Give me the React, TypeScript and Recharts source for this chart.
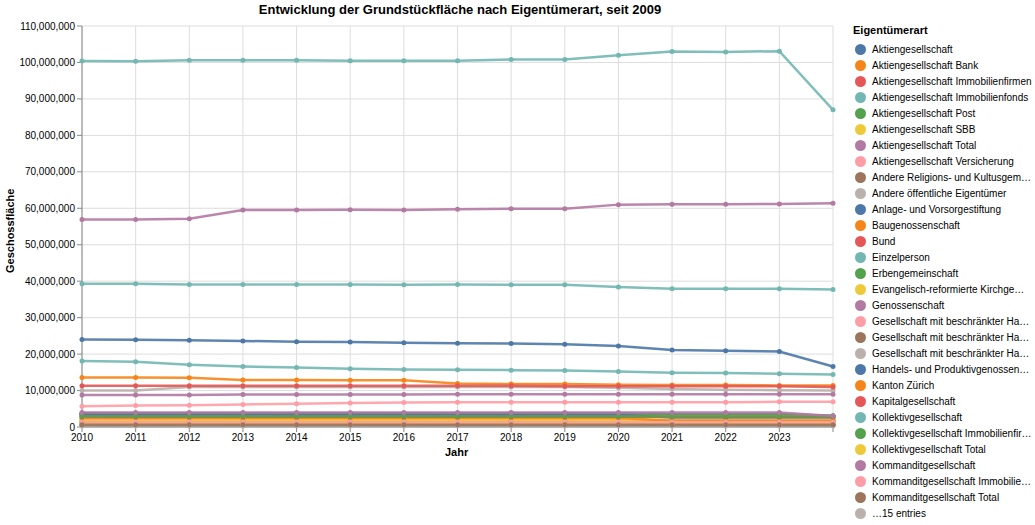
import { LineChart, Line, XAxis, YAxis, CartesianGrid } from 'recharts';

const years = [2010, 2011, 2012, 2013, 2014, 2015, 2016, 2017, 2018, 2019, 2020, 2021, 2022, 2023, 2024];
const xTicks = years;
const yTicks = [0, 10e6, 20e6, 30e6, 40e6, 50e6, 60e6, 70e6, 80e6, 90e6, 100e6, 110e6];
const palette = ['#4c78a8', '#f58518', '#e45756', '#72b7b2', '#54a24b', '#eeca3b', '#b279a2', '#ff9da6', '#9d755d', '#bab0ac'];

const names = [
  'Aktiengesellschaft', 'Aktiengesellschaft Bank', 'Aktiengesellschaft Immobilienfirmen', 'Aktiengesellschaft Immobilienfonds',
  'Aktiengesellschaft Post', 'Aktiengesellschaft SBB', 'Aktiengesellschaft Total', 'Aktiengesellschaft Versicherung',
  'Andere Religions- und Kultusgem…', 'Andere öffentliche Eigentümer', 'Anlage- und Vorsorgestiftung', 'Baugenossenschaft',
  'Bund', 'Einzelperson', 'Erbengemeinschaft', 'Evangelisch-reformierte Kirchge…', 'Genossenschaft',
  'Gesellschaft mit beschränkter Ha…', 'Gesellschaft mit beschränkter Ha…', 'Gesellschaft mit beschränkter Ha…',
  'Handels- und Produktivgenossen…', 'Kanton Zürich', 'Kapitalgesellschaft', 'Kollektivgesellschaft',
  'Kollektivgesellschaft Immobilienfir…', 'Kollektivgesellschaft Total', 'Kommanditgesellschaft',
  'Kommanditgesellschaft Immobilie…', 'Kommanditgesellschaft Total', '…15 entries',
];

// values in millions per series index (2010..2024)
const values: number[][] = [
  [24.0, 23.9, 23.8, 23.6, 23.4, 23.3, 23.1, 23.0, 22.9, 22.7, 22.2, 21.1, 20.9, 20.7, 16.6],
  [1.2, 1.2, 1.2, 1.2, 1.2, 1.2, 1.2, 1.2, 1.2, 1.2, 1.2, 0.6, 0.6, 0.6, 0.6],
  [3.6, 3.6, 3.6, 1.8, 1.8, 1.8, 1.8, 1.8, 1.8, 1.8, 1.8, 1.8, 1.8, 1.8, 1.8],
  [18.1, 17.9, 17.1, 16.6, 16.3, 16.0, 15.8, 15.7, 15.6, 15.5, 15.2, 14.9, 14.8, 14.6, 14.4],
  [1.5, 1.5, 1.5, 1.5, 1.5, 1.5, 1.5, 1.5, 1.5, 1.5, 1.5, 1.5, 1.5, 1.5, 1.5],
  [2.0, 2.0, 2.0, 2.0, 2.0, 2.0, 2.0, 2.0, 2.0, 2.0, 2.0, 2.0, 2.0, 2.0, 2.0],
  [56.9, 56.9, 57.1, 59.5, 59.5, 59.6, 59.5, 59.7, 59.9, 59.9, 61.0, 61.1, 61.1, 61.2, 61.4],
  [5.7, 5.9, 6.0, 6.2, 6.4, 6.6, 6.7, 6.8, 6.8, 6.8, 6.8, 6.8, 6.8, 6.9, 6.9],
  [0.5, 0.5, 0.5, 0.5, 0.5, 0.5, 0.5, 0.5, 0.5, 0.5, 0.5, 0.5, 0.5, 0.5, 0.5],
  [10.0, 10.0, 11.0, 11.0, 11.0, 11.0, 11.0, 11.0, 11.0, 11.0, 10.8, 10.4, 10.2, 10.1, 10.0],
  [3.8, 3.8, 3.8, 3.8, 3.8, 3.8, 3.8, 3.8, 3.8, 3.8, 3.8, 3.6, 3.6, 3.6, 3.0],
  [13.6, 13.6, 13.5, 12.9, 12.9, 12.8, 12.8, 11.9, 11.8, 11.8, 11.6, 11.5, 11.5, 11.4, 11.4],
  [11.3, 11.3, 11.3, 11.3, 11.3, 11.3, 11.3, 11.3, 11.3, 11.2, 11.2, 11.2, 11.2, 11.2, 11.0],
  [100.4, 100.3, 100.6, 100.6, 100.6, 100.5, 100.5, 100.5, 100.8, 100.8, 102.0, 103.0, 102.9, 103.1, 87.0],
  [3.3, 3.3, 3.3, 3.3, 3.3, 3.3, 3.3, 3.3, 3.3, 3.2, 3.2, 3.2, 3.2, 3.2, 3.1],
  [1.8, 1.8, 1.8, 1.8, 1.8, 1.8, 1.8, 1.8, 1.8, 1.8, 1.8, 1.8, 1.8, 1.8, 1.8],
  [8.8, 8.8, 8.8, 8.9, 8.9, 8.9, 8.9, 9.0, 9.0, 9.0, 9.0, 9.0, 9.0, 9.0, 9.0],
  [2.3, 2.4, 2.5, 2.6, 2.6, 2.7, 2.7, 2.8, 2.8, 2.8, 2.9, 2.9, 2.9, 2.9, 2.9],
  [0.8, 0.8, 0.8, 0.8, 0.8, 0.8, 0.8, 0.8, 0.8, 0.8, 0.8, 0.8, 0.8, 0.8, 0.8],
  [0.3, 0.3, 0.3, 0.3, 0.3, 0.3, 0.3, 0.3, 0.3, 0.3, 0.3, 0.3, 0.3, 0.3, 0.3],
  [3.5, 3.5, 3.5, 3.5, 3.5, 3.5, 3.5, 3.4, 3.4, 3.4, 3.3, 2.6, 2.6, 2.6, 2.6],
  [2.5, 2.5, 2.5, 2.5, 2.5, 2.5, 2.5, 2.5, 2.5, 2.5, 2.5, 1.7, 1.7, 1.7, 1.7],
  [2.8, 2.8, 2.8, 2.8, 2.8, 2.8, 2.8, 2.8, 2.8, 2.8, 2.8, 2.8, 2.8, 2.8, 2.8],
  [39.3, 39.3, 39.1, 39.1, 39.1, 39.1, 39.0, 39.1, 39.0, 39.0, 38.4, 37.9, 37.9, 37.9, 37.7],
  [2.9, 2.9, 2.9, 2.9, 2.9, 2.9, 2.9, 2.9, 2.9, 2.9, 2.9, 2.9, 2.9, 2.9, 2.9],
  [1.0, 1.0, 1.0, 1.0, 1.0, 1.0, 1.0, 1.0, 1.0, 1.0, 1.0, 1.0, 1.0, 1.0, 1.0],
  [4.0, 4.0, 4.0, 4.0, 4.0, 4.0, 4.0, 4.0, 4.0, 4.0, 4.0, 4.0, 4.0, 4.0, 3.0],
  [1.3, 1.3, 1.3, 1.3, 1.3, 1.3, 1.3, 1.3, 1.3, 1.3, 1.3, 1.3, 1.3, 1.3, 1.3],
  [0.6, 0.6, 0.6, 0.6, 0.6, 0.6, 0.6, 0.6, 0.6, 0.6, 0.6, 0.6, 0.6, 0.6, 0.6],
];

const data = years.map((year, i) => {
  const row: any = { year };
  values.forEach((v, s) => { row['s' + s] = v[i] * 1e6; });
  return row;
});

const font = 'Liberation Sans, Arial, sans-serif';

export default function App() {
  return (
    <div style={{ position: 'absolute', left: 0, top: 0, width: 1035, height: 525, background: '#fff', fontFamily: font }}>
      <div style={{ position: 'absolute', top: 2, left: 0, width: 920, textAlign: 'center', fontSize: 13, fontWeight: 'bold' }}>
        Entwicklung der Grundstückfläche nach Eigentümerart, seit 2009
      </div>
      <LineChart width={1035} height={525} data={data} margin={{ top: 26, right: 202, bottom: 78, left: 22 }}>
        <CartesianGrid stroke="#ddd" horizontal vertical />
        <XAxis dataKey="year" type="number" domain={[2010, 2024]} ticks={xTicks}
          tickFormatter={(v) => (v === 2024 ? '' : String(v))}
          tick={{ fontSize: 10, fill: '#000', fontFamily: font }} stroke="#888" tickSize={5} height={20} />
        <YAxis type="number" domain={[0, 110e6]} ticks={yTicks} width={60}
          tickFormatter={(v) => v.toLocaleString('en-US')}
          tick={{ fontSize: 10, fill: '#000', fontFamily: font }} stroke="#888" tickSize={5} />
        {values.map((_, s) => (
          <Line key={s} dataKey={'s' + s} stroke={palette[s % 10]} strokeWidth={2.5} strokeOpacity={0.9}
            dot={{ r: 2.5, fill: palette[s % 10], stroke: 'none' }} isAnimationActive={false} />
        ))}
      </LineChart>
      <div style={{ position: 'absolute', top: 446, left: 445, fontSize: 11, fontWeight: 'bold' }}>Jahr</div>
      <div style={{ position: 'absolute', left: 4, top: 228, fontSize: 11, fontWeight: 'bold', transform: 'rotate(-90deg)', transformOrigin: 'left top', whiteSpace: 'nowrap' }}>
        <div style={{ position: 'relative', left: -45, top: 0 }}>Geschossfläche</div>
      </div>
      <div style={{ position: 'absolute', left: 853, top: 24, fontSize: 11 }}>
        <div style={{ fontWeight: 'bold', marginBottom: 5 }}>Eigentümerart</div>
        {names.map((n, i) => (
          <div key={i} style={{ display: 'flex', alignItems: 'center', height: 16, fontSize: 10 }}>
            <span style={{ width: 11, height: 11, borderRadius: 6, background: palette[i % 10], marginLeft: 2, marginRight: 6, display: 'inline-block' }} />
            {n}
          </div>
        ))}
      </div>
    </div>
  );
}
